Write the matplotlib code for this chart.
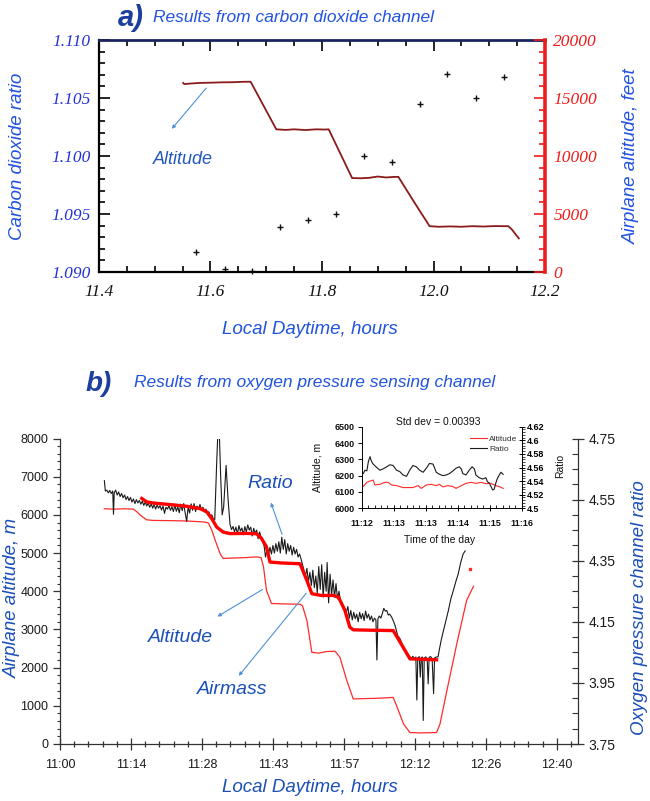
import matplotlib
matplotlib.use("Agg")
import matplotlib.pyplot as plt
from matplotlib.ticker import MultipleLocator, FixedLocator, FixedFormatter, NullFormatter
from matplotlib.patches import FancyArrowPatch

# ---------------- panel a data ----------------
co2_hours = [11.574, 11.626, 11.674, 11.725, 11.775, 11.825, 11.876, 11.925, 11.975, 12.025, 12.076, 12.126]
co2_ratio = [1.09175, 1.0903, 1.0901, 1.0939, 1.0945, 1.0950, 1.1000, 1.0995, 1.1045, 1.1071, 1.1050, 1.1068]
alt_a_hours = [11.551, 11.553, 11.565, 11.58, 11.60, 11.62, 11.64, 11.66, 11.672, 11.695, 11.718, 11.735,
               11.75, 11.77, 11.79, 11.805, 11.812, 11.833, 11.854, 11.87, 11.885, 11.90, 11.915, 11.93,
               11.937, 11.965, 11.993, 12.01, 12.03, 12.05, 12.07, 12.09, 12.11, 12.125, 12.134, 12.14, 12.153]
alt_a_feet = [16300, 16200, 16250, 16300, 16320, 16350, 16360, 16400, 16400, 14350, 12300, 12250,
              12300, 12240, 12300, 12280, 12300, 10200, 8100, 8080, 8120, 8230, 8150, 8200,
              8200, 6050, 3950, 3900, 3930, 3900, 3950, 3920, 3960, 3950, 3950, 3700, 2900]
a_xticks = [11.4, 11.6, 11.8, 12.0, 12.2]
a_xticklabels = ["11.4", "11.6", "11.8", "12.0", "12.2"]
a_left_ticks = [1.090, 1.095, 1.100, 1.105, 1.110]
a_left_labels = ["1.090", "1.095", "1.100", "1.105", "1.110"]
a_right_ticks = [0, 5000, 10000, 15000, 20000]
a_right_labels = ["0", "5000", "10000", "15000", "20000"]

# ---------------- panel b data (time in minutes after 11:00) ----------------
b_xticklabels = ["11:00", "11:14", "11:28", "11:43", "11:57", "12:12", "12:26", "12:40"]
b_xticks = [0, 14.4, 28.8, 43.2, 57.6, 72.0, 86.4, 100.8]
b_left_ticks = [0, 1000, 2000, 3000, 4000, 5000, 6000, 7000, 8000]
b_right_ticks = [3.75, 3.95, 4.15, 4.35, 4.55, 4.75]

ratio_min = [9.0, 9.2, 9.5, 9.8, 10.1, 10.4, 10.7, 10.85, 11.0, 11.3, 11.6, 11.9, 12.2, 12.5, 12.8, 13.1,
             13.4, 13.7, 14.0, 14.3, 14.6, 14.9, 15.2, 15.5, 15.8, 16.1, 16.4, 16.7, 17.0, 17.3, 17.6,
             17.9, 18.2, 18.5, 18.8, 19.1, 19.4, 19.7, 20.0, 20.3, 20.6, 20.9, 21.2, 21.5, 21.8, 22.1,
             22.4, 22.7, 23.0, 23.3, 23.6, 23.9, 24.2, 24.5, 24.8, 25.1, 25.4, 25.7, 26.0, 26.3, 26.6,
             26.9, 27.2, 27.5, 27.8, 28.1, 28.4, 28.7, 29.0, 29.3, 29.6, 29.9, 30.2, 30.5, 30.8, 31.1,
             31.4, 31.8, 32.2, 32.6, 32.9, 33.2, 33.7, 34.1, 34.5, 34.8, 35.1, 35.4, 35.7, 36.0, 36.3,
             36.6, 36.9, 37.2, 37.5, 37.8, 38.1, 38.4, 38.7, 39.0, 39.3, 39.6, 39.9, 40.2, 40.5, 40.8,
             41.1, 41.4, 41.7, 42.0, 42.3, 42.6, 42.9, 43.2, 43.5, 43.8, 44.1, 44.4, 44.7, 45.0, 45.3,
             45.6, 45.9, 46.2, 46.5, 46.8, 47.1, 47.4, 47.7, 48.0, 48.3, 48.6, 48.9, 49.2, 49.5, 49.8,
             50.1, 50.4, 50.7, 51.0, 51.3, 51.6, 51.9, 52.2, 52.5, 52.8, 53.1, 53.4, 53.7, 54.0, 54.2,
             54.5, 54.8, 55.1, 55.4, 55.7, 56.0, 56.3, 56.6, 56.9, 57.2, 57.5, 57.8, 58.1, 58.4, 58.7,
             59.0, 59.3, 59.6, 59.9, 60.2, 60.5, 60.8, 61.1, 61.4, 61.7, 62.0, 62.3, 62.6, 62.9, 63.2,
             63.5, 63.8, 64.1, 64.3, 64.5, 64.8, 65.1, 65.4, 65.7, 66.0, 66.3, 66.6, 66.9, 67.3, 67.7,
             68.0, 68.5, 69.0, 69.5, 70.0, 70.5, 71.0, 71.3, 71.6, 71.9, 72.2, 72.4, 72.6, 72.9, 73.1,
             73.3, 73.5, 73.7, 73.9, 74.2, 74.5, 74.7, 74.9, 75.2, 75.5, 75.8, 76.0, 76.4, 76.7, 77.0,
             77.4, 77.8, 78.3, 78.8, 79.3, 79.8, 80.3, 80.8, 81.3, 81.8, 82.2]
ratio_val = [4.612, 4.578, 4.581, 4.572, 4.580, 4.570, 4.578, 4.502, 4.572, 4.581, 4.565, 4.575, 4.560,
             4.570, 4.556, 4.565, 4.550, 4.560, 4.547, 4.557, 4.542, 4.552, 4.537, 4.550, 4.539, 4.547,
             4.535, 4.545, 4.531, 4.542, 4.529, 4.539, 4.525, 4.536, 4.522, 4.534, 4.519, 4.532, 4.522,
             4.530, 4.516, 4.529, 4.505, 4.525, 4.519, 4.530, 4.515, 4.527, 4.511, 4.532, 4.512, 4.526,
             4.507, 4.535, 4.514, 4.537, 4.506, 4.479, 4.525, 4.506, 4.536, 4.515, 4.537, 4.511, 4.529,
             4.519, 4.534, 4.515, 4.525, 4.512, 4.519, 4.505, 4.510, 4.497, 4.500, 4.487, 4.485, 4.675,
             4.837, 4.625, 4.500, 4.525, 4.662, 4.550, 4.469, 4.452, 4.462, 4.445, 4.460, 4.437, 4.465,
             4.447, 4.457, 4.435, 4.462, 4.444, 4.467, 4.450, 4.460, 4.431, 4.456, 4.440, 4.450, 4.422,
             4.444, 4.427, 4.412, 4.400, 4.362, 4.387, 4.369, 4.394, 4.372, 4.400, 4.375, 4.406, 4.381,
             4.412, 4.375, 4.427, 4.387, 4.419, 4.372, 4.406, 4.381, 4.400, 4.369, 4.394, 4.372, 4.387,
             4.362, 4.372, 4.356, 4.337, 4.319, 4.300, 4.325, 4.281, 4.312, 4.269, 4.319, 4.262, 4.300,
             4.244, 4.331, 4.256, 4.337, 4.231, 4.312, 4.250, 4.344, 4.212, 4.306, 4.237, 4.287, 4.231,
             4.275, 4.225, 4.250, 4.220, 4.212, 4.200, 4.187, 4.181, 4.200, 4.162, 4.187, 4.156, 4.181,
             4.160, 4.175, 4.150, 4.181, 4.160, 4.177, 4.154, 4.185, 4.162, 4.175, 4.156, 4.169, 4.150,
             4.162, 4.156, 4.025, 4.160, 4.169, 4.162, 4.177, 4.194, 4.185, 4.187, 4.172, 4.175, 4.165,
             4.150, 4.137, 4.106, 4.094, 4.075, 4.056, 4.044, 4.035, 4.031, 4.037, 4.029, 4.035, 3.894,
             4.032, 4.036, 3.969, 4.031, 4.035, 3.827, 4.031, 4.035, 4.029, 3.947, 4.034, 4.036, 4.030,
             3.915, 4.032, 4.035, 4.035, 4.062, 4.094, 4.121, 4.156, 4.187, 4.225, 4.252, 4.281, 4.307,
             4.344, 4.372, 4.382]

alt_b_min = [9.0, 11.0, 13.0, 14.9, 15.6, 16.4, 17.6, 18.9, 22.0, 25.7, 29.1, 30.1, 30.8, 31.5, 32.5,
             33.1, 35.0, 37.5, 39.9, 40.8, 41.3, 41.9, 42.9, 45.0, 48.7, 49.2, 50.1, 51.1, 52.5, 54.0,
             55.8, 56.8, 58.2, 59.5, 62.0, 65.0, 67.6, 68.3, 69.7, 71.0, 73.0, 76.4, 77.1, 78.5, 80.5,
             82.5, 83.9]
alt_b_m = [6160, 6150, 6160, 6150, 6080, 5980, 5870, 5855, 5850, 5840, 5815, 5790, 5600, 5330, 4980,
           4860, 4870, 4880, 4900, 4880, 4630, 4020, 3680, 3670, 3660, 3620, 3230, 2400, 2380, 2420,
           2430, 2270, 1660, 1180, 1190, 1200, 1220, 1000, 525, 300, 290, 300, 525, 1400, 2620,
           3760, 4130]
stray_min = [83.1]
stray_m = [4590]

airmass_min = [16.6, 17.6, 18.9, 22.3, 25.7, 28.4, 29.8, 30.8, 31.8, 33.1, 34.5, 37.9, 39.9, 40.9,
               41.9, 42.6, 45.0, 48.7, 50.1, 51.1, 53.0, 55.5, 56.5, 57.8, 58.8, 59.5, 63.0, 67.6,
               68.6, 70.0, 71.0, 76.4]
airmass_m = [6430, 6340, 6310, 6270, 6225, 6165, 6075, 5900, 5680, 5550, 5510, 5515, 5505, 5380,
             5160, 4765, 4740, 4720, 4280, 3935, 3890, 3890, 3845, 3500, 3060, 2990, 2980, 2970,
             2755, 2450, 2230, 2205]

# ---------------- inset data ----------------
inset_xlabels = ["11:12", "11:13", "11:13", "11:14", "11:15", "11:16"]
inset_alt_x = [0.00, 0.05, 0.16, 0.26, 0.36, 0.41, 0.57, 0.72, 0.83, 0.93, 1.09, 1.29, 1.60, 1.76,
               1.86, 2.02, 2.17, 2.33, 2.43, 2.54, 2.69, 2.85, 2.95, 3.05, 3.26, 3.42, 3.57, 3.73,
               3.88, 4.04, 4.19, 4.30, 4.42]
inset_alt = [6153, 6133, 6159, 6167, 6173, 6143, 6147, 6159, 6159, 6143, 6139, 6127, 6127, 6139,
             6122, 6143, 6147, 6139, 6147, 6131, 6139, 6133, 6122, 6133, 6153, 6159, 6153, 6159,
             6151, 6153, 6139, 6133, 6122]
inset_ratio_x = [0.00, 0.05, 0.10, 0.16, 0.21, 0.26, 0.29, 0.34, 0.38, 0.47, 0.57, 0.67, 0.78, 0.88,
                 0.98, 1.09, 1.19, 1.29, 1.40, 1.50, 1.60, 1.71, 1.81, 1.92, 2.02, 2.12, 2.23, 2.28,
                 2.33, 2.43, 2.54, 2.64, 2.74, 2.85, 2.95, 3.05, 3.11, 3.16, 3.26, 3.36, 3.45, 3.52,
                 3.57, 3.67, 3.78, 3.88, 3.93, 3.99, 4.04, 4.09, 4.14, 4.19, 4.24, 4.30, 4.35, 4.42]
inset_ratio = [4.549, 4.551, 4.556, 4.555, 4.569, 4.576, 4.571, 4.566, 4.564, 4.560, 4.556, 4.558,
               4.561, 4.564, 4.563, 4.556, 4.554, 4.549, 4.547, 4.556, 4.563, 4.561, 4.556, 4.553,
               4.559, 4.566, 4.565, 4.559, 4.553, 4.550, 4.548, 4.549, 4.551, 4.555, 4.559, 4.561,
               4.558, 4.551, 4.549, 4.556, 4.561, 4.558, 4.549, 4.545, 4.543, 4.545, 4.539, 4.537,
               4.532, 4.527, 4.528, 4.537, 4.544, 4.549, 4.553, 4.550]
inset_left_ticks = [6000, 6100, 6200, 6300, 6400, 6500]
inset_right_ticks = [4.50, 4.52, 4.54, 4.56, 4.58, 4.60, 4.62]
inset_right_labels = ["4.5", "4.52", "4.54", "4.56", "4.58", "4.6", "4.62"]

# ---------------- figure ----------------
W, H = 650, 801
fig = plt.figure(figsize=(W / 100, H / 100), dpi=100)
SANS = ["Liberation Sans", "DejaVu Sans"]
SERIF = ["Liberation Serif", "DejaVu Serif"]
BLUE = "#2152e0"
NAVY = "#1c3f9e"
LBLUE = "#1b4fb8"
ARROW = "#4d92d6"


def fx(x):
    return x / W


def fy(y):
    return 1 - y / H


def ftext(x, y, s, **kw):
    kw.setdefault("family", SANS)
    fig.text(fx(x), fy(y), s, **kw)


def farrow(x0, y0, x1, y1):
    fig.add_artist(FancyArrowPatch((fx(x0), fy(y0)), (fx(x1), fy(y1)), transform=fig.transFigure,
                                   arrowstyle="-|>", mutation_scale=5, color=ARROW, lw=0.8))


# ================= panel a =================
ax_a = fig.add_axes([fx(99), fy(272), fx(545) - fx(99), (272 - 40) / H])
ax_a.set_xlim(11.4, 12.2)
ax_a.set_ylim(1.090, 1.110)
ax_a.plot(co2_hours, co2_ratio, linestyle="none", marker="+", ms=4, mew=1.0, color="#111111", clip_on=False)
ax_a.xaxis.set_major_locator(FixedLocator(a_xticks))
ax_a.xaxis.set_major_formatter(FixedFormatter(a_xticklabels))
ax_a.xaxis.set_minor_locator(MultipleLocator(0.05))
ax_a.yaxis.set_major_locator(FixedLocator(a_left_ticks))
ax_a.yaxis.set_major_formatter(FixedFormatter(a_left_labels))
ax_a.yaxis.set_minor_locator(MultipleLocator(0.001))
ax_a.tick_params(axis="both", which="both", direction="in", top=True, right=False, width=1.2)
ax_a.tick_params(which="major", length=8)
ax_a.tick_params(which="minor", length=4)
ax_a.tick_params(axis="x", pad=9)
ax_a.tick_params(axis="y", pad=6)
for lab in ax_a.get_xticklabels():
    lab.set_fontfamily(SERIF); lab.set_fontstyle("italic"); lab.set_fontsize(12.5); lab.set_color("#111111")
for lab in ax_a.get_yticklabels():
    lab.set_fontfamily(SERIF); lab.set_fontstyle("italic"); lab.set_fontsize(12.5); lab.set_color("#2431d6")
ax_a.spines["left"].set_linewidth(1.6)
ax_a.spines["bottom"].set_linewidth(1.6)
ax_a.spines["top"].set_linewidth(2.0)
ax_a.spines["top"].set_color("#1a2560")
ax_a.spines["right"].set_visible(False)

ax_a2 = ax_a.twinx()
ax_a2.set_ylim(0, 20000)
ax_a2.plot(alt_a_hours, alt_a_feet, color="#8b1a1a", lw=1.3)
ax_a2.yaxis.set_major_locator(FixedLocator(a_right_ticks))
ax_a2.yaxis.set_major_formatter(FixedFormatter(a_right_labels))
ax_a2.yaxis.set_minor_locator(MultipleLocator(1000))
ax_a2.tick_params(axis="y", which="both", direction="in", color="#ee1c1c", width=1.2, pad=6)
ax_a2.tick_params(which="major", length=8)
ax_a2.tick_params(which="minor", length=4)
for lab in ax_a2.get_yticklabels():
    lab.set_fontfamily(SERIF); lab.set_fontstyle("italic"); lab.set_fontsize(12.5); lab.set_color("#ee1c1c")
for s in ["left", "top", "bottom"]:
    ax_a2.spines[s].set_visible(False)
ax_a2.spines["right"].set_color("#ee1c1c")
ax_a2.spines["right"].set_linewidth(2.6)

ftext(118, 26, "a)", fontsize=21, fontstyle="italic", fontweight="bold", color=NAVY)
ftext(153, 22, "Results from carbon dioxide channel", fontsize=12.5, fontstyle="italic", color=BLUE)
ftext(18, 156, "Carbon dioxide ratio", fontsize=13.5, fontstyle="italic", color=BLUE, rotation=90,
      ha="center", va="center")
ftext(631, 156, "Airplane altitude, feet", fontsize=13.5, fontstyle="italic", color=BLUE, rotation=90,
      ha="center", va="center")
ftext(310, 329, "Local Daytime, hours", fontsize=13.5, fontstyle="italic", color=BLUE, ha="center", va="center")
ftext(183, 159, "Altitude", fontsize=13, fontstyle="italic", color="#2258c0", ha="center", va="center")
farrow(208, 86, 170, 131)

# ================= panel b =================
ax_b = fig.add_axes([fx(60), fy(744), (578 - 60) / W, (744 - 438.5) / H])
ax_b.set_xlim(0, 105.1)
ax_b.set_ylim(0, 8000)
ax_b2 = ax_b.twinx()
ax_b2.set_ylim(3.75, 4.75)

ax_b.plot(alt_b_min, alt_b_m, color="#ff2a2a", lw=0.9)
ax_b.plot(stray_min, stray_m, linestyle="none", marker="s", ms=1.5, color="#ff2a2a")
ax_b2.plot(ratio_min, ratio_val, color="#1a1a1a", lw=0.8)
ax_b2.plot(airmass_min, airmass_m, color="#ff0000", lw=2.4, transform=ax_b.transData)

ax_b.xaxis.set_major_locator(FixedLocator(b_xticks))
ax_b.xaxis.set_major_formatter(FixedFormatter(b_xticklabels))
ax_b.xaxis.set_minor_locator(MultipleLocator(2.88))
ax_b.yaxis.set_major_locator(FixedLocator(b_left_ticks))
ax_b.yaxis.set_minor_locator(MultipleLocator(200))
ax_b.tick_params(axis="x", which="major", direction="inout", length=9, width=0.9, color="#333333")
ax_b.tick_params(axis="x", which="minor", direction="inout", length=5, width=0.9, color="#333333")
ax_b.tick_params(axis="y", which="major", direction="out", length=5, width=0.9, color="#333333")
ax_b.tick_params(axis="y", which="minor", direction="out", length=2.5, width=0.8, color="#333333")
ax_b.tick_params(axis="both", labelsize=9, labelcolor="#1a1a1a")
ax_b.tick_params(axis="x", pad=6)
for lab in ax_b.get_xticklabels() + ax_b.get_yticklabels():
    lab.set_fontfamily(SANS)
ax_b.spines["top"].set_visible(False)
ax_b.spines["right"].set_visible(False)
for s in ["left", "bottom"]:
    ax_b.spines[s].set_color("#333333"); ax_b.spines[s].set_linewidth(0.9)

ax_b2.yaxis.set_major_locator(FixedLocator(b_right_ticks))
ax_b2.yaxis.set_major_formatter(FixedFormatter(["3.75", "3.95", "4.15", "4.35", "4.55", "4.75"]))
ax_b2.yaxis.set_minor_locator(MultipleLocator(0.05))
ax_b2.tick_params(axis="y", which="major", direction="inout", length=9, width=0.9, color="#333333",
                  labelsize=10, labelcolor="#1a1a1a", pad=3)
ax_b2.tick_params(axis="y", which="minor", direction="in", length=4, width=0.8, color="#333333")
for lab in ax_b2.get_yticklabels():
    lab.set_fontfamily(SANS)
for s in ["left", "top", "bottom"]:
    ax_b2.spines[s].set_visible(False)
ax_b2.spines["right"].set_color("#333333")
ax_b2.spines["right"].set_linewidth(0.9)

ftext(86, 391, "b)", fontsize=20, fontstyle="italic", fontweight="bold", color=NAVY)
ftext(134, 387, "Results from oxygen pressure sensing channel", fontsize=12.5, fontstyle="italic", color=BLUE)
ftext(12, 598, "Airplane altitude, m", fontsize=13.5, fontstyle="italic", color=LBLUE, rotation=90,
      ha="center", va="center")
ftext(640, 608, "Oxygen pressure channel ratio", fontsize=13.5, fontstyle="italic", color=LBLUE,
      rotation=90, ha="center", va="center")
ftext(310, 787, "Local Daytime, hours", fontsize=13.5, fontstyle="italic", color=LBLUE, ha="center", va="center")

ftext(270, 484, "Ratio", fontsize=14, fontstyle="italic", color=LBLUE, ha="center", va="center")
ftext(181, 638, "Altitude", fontsize=14, fontstyle="italic", color=LBLUE, ha="center", va="center")
ftext(232, 690, "Airmass", fontsize=14, fontstyle="italic", color=LBLUE, ha="center", va="center")
farrow(283, 537, 270, 500)
farrow(265, 588, 215, 618)
farrow(308, 591, 237, 678)

# ================= inset =================
ax_i = fig.add_axes([fx(361.7), fy(508.3), (521.7 - 361.7) / W, (508.3 - 426.7) / H])
ax_i.set_xlim(0, 5)
ax_i.set_ylim(6000, 6500)
ax_i2 = ax_i.twinx()
ax_i2.set_ylim(4.50, 4.62)
l1, = ax_i.plot(inset_alt_x, inset_alt, color="#ff2a2a", lw=0.8, label="Altitude")
l2, = ax_i2.plot(inset_ratio_x, inset_ratio, color="#1a1a1a", lw=0.8, label="Ratio")
ax_i.xaxis.set_major_locator(FixedLocator(list(range(6))))
ax_i.xaxis.set_major_formatter(FixedFormatter(inset_xlabels))
ax_i.xaxis.set_minor_locator(MultipleLocator(0.2))
ax_i.yaxis.set_major_locator(FixedLocator(inset_left_ticks))
ax_i.tick_params(axis="x", which="major", direction="inout", length=5, width=0.7)
ax_i.tick_params(axis="x", which="minor", direction="in", length=2, width=0.6)
ax_i.tick_params(axis="y", which="major", direction="out", length=3, width=0.7, pad=2)
ax_i.tick_params(axis="both", labelsize=6.5, labelcolor="#111111")
ax_i.tick_params(axis="x", pad=5)
for lab in ax_i.get_xticklabels() + ax_i.get_yticklabels():
    lab.set_fontfamily(SANS); lab.set_fontweight("bold")
ax_i.spines["top"].set_visible(False)
ax_i.spines["right"].set_visible(False)
for s in ["left", "bottom"]:
    ax_i.spines[s].set_linewidth(0.7)
ax_i2.yaxis.set_major_locator(FixedLocator(inset_right_ticks))
ax_i2.yaxis.set_major_formatter(FixedFormatter(inset_right_labels))
ax_i2.yaxis.set_minor_locator(MultipleLocator(0.004))
ax_i2.tick_params(axis="y", which="major", direction="inout", length=4, width=0.7, labelsize=6.5, pad=2)
ax_i2.tick_params(axis="y", which="minor", direction="out", length=2, width=0.5)
for lab in ax_i2.get_yticklabels():
    lab.set_fontfamily(SANS); lab.set_fontweight("bold")
for s in ["left", "top", "bottom"]:
    ax_i2.spines[s].set_visible(False)
ax_i2.spines["right"].set_linewidth(0.7)
leg = ax_i2.legend(handles=[l1, l2], loc="upper left", bbox_to_anchor=(fx(466), fy(431)),
                   bbox_transform=fig.transFigure, frameon=False, fontsize=6, handlelength=2.0,
                   handletextpad=0.3, labelspacing=0.25, borderpad=0, prop={"family": SANS, "size": 6})
for t in leg.get_texts():
    t.set_color("#333333")

ftext(438, 422, "Std dev = 0.00393", fontsize=7.5, ha="center", va="center", color="#111111")
ftext(318, 467, "Altitude, m", fontsize=7.5, rotation=90, ha="center", va="center", color="#111111")
ftext(560, 466, "Ratio", fontsize=7.5, rotation=90, ha="center", va="center", color="#111111")
ftext(440, 540, "Time of the day", fontsize=7.5, ha="center", va="center", color="#111111")

fig.savefig("out.png", dpi=100, facecolor="white")
